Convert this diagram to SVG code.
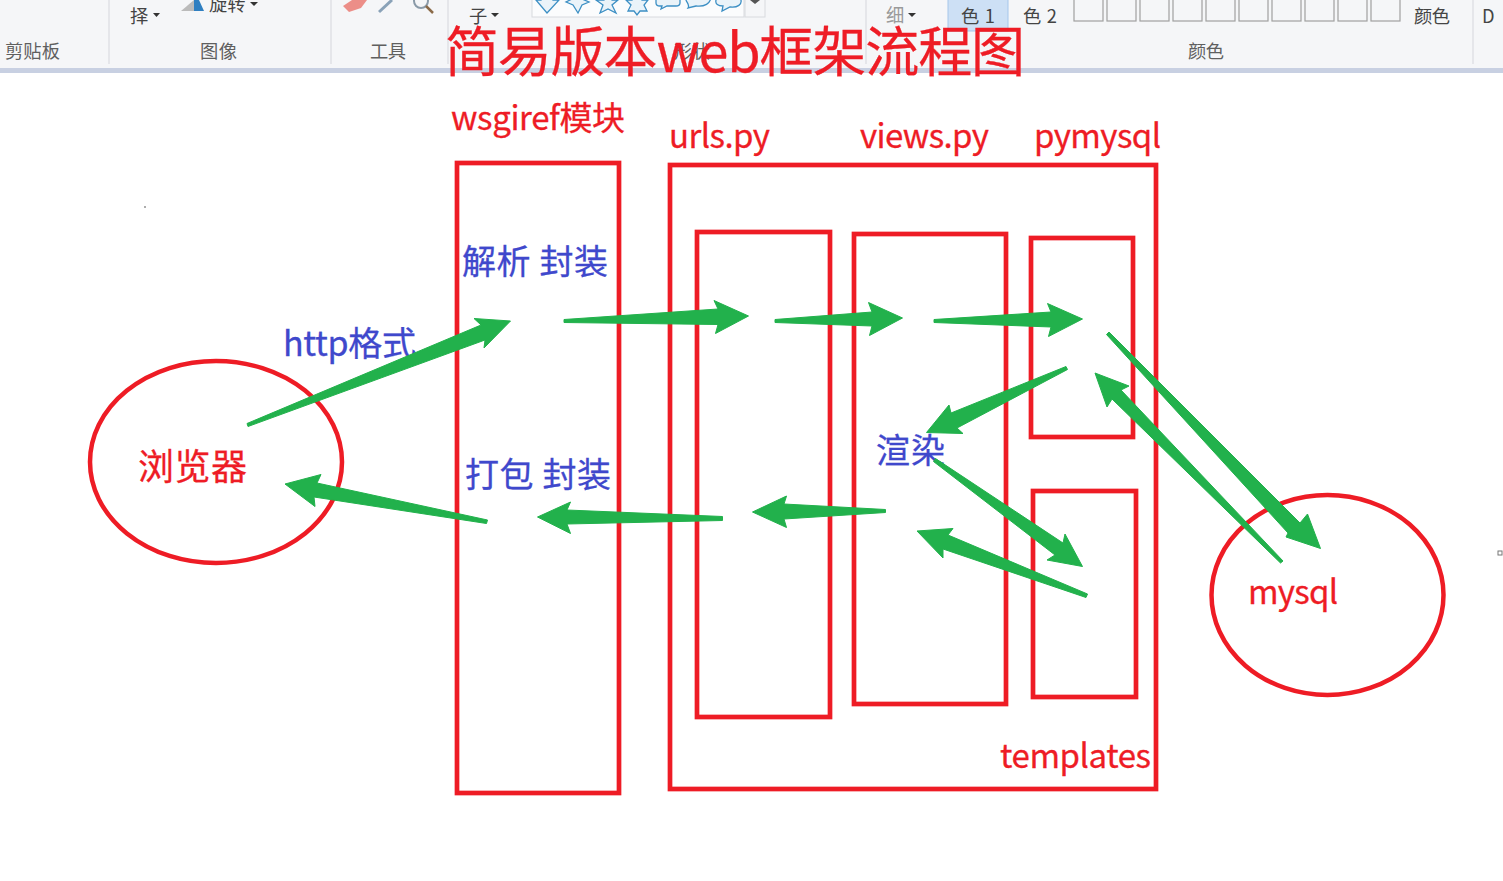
<svg xmlns="http://www.w3.org/2000/svg" width="1503" height="881" viewBox="0 0 1503 881">
<style>
text{font-family:"Noto Sans CJK SC","Liberation Sans",sans-serif}
.rb{font-size:18.300px;fill:#5f5f5f}
.rb2{font-size:18.300px;fill:#444}
.red{fill:#ee1c25;stroke:#ee1c25;stroke-width:0.300}
.blue{fill:#3f48cc;stroke:#3f48cc;stroke-width:0.300}
.box{fill:none;stroke:#ee1c25;stroke-width:4.700}
.oval{fill:none;stroke:#ee1c25;stroke-width:4.500}
.arrow{fill:#22b14c;stroke:#22b14c;stroke-width:1;stroke-linejoin:round}
.sep{stroke:#dfe1e5;stroke-width:1.500}
.sw{fill:#f5f6f8;stroke:#a0a0a0;stroke-width:1.200}
.ic{fill:#eaf3f9;stroke:#3c8fc4;stroke-width:1.300}
</style>
<rect width="1503" height="881" fill="#fff"/>
<g id="ribbon">
<rect width="1503" height="68" fill="#f5f6f8"/>
<rect y="68" width="1503" height="5" fill="#c8d0e2"/>
<path class="sep" d="M109 0V64M331 0V64M448 0V64M866 0V64M1473 0V64" fill="none"/>
<text class="rb" x="5" y="58" textLength="55">剪贴板</text>
<text class="rb" x="200" y="58" textLength="37">图像</text>
<text class="rb" x="370" y="58" textLength="36">工具</text>
<text class="rb" x="674" y="58" textLength="36">形状</text>
<text class="rb" x="1188" y="58" textLength="36">颜色</text>
<text class="rb2" x="130" y="23">择</text>
<path d="M153 13h7l-3.500 4z M250 2h8l-4 4z M491 13h8l-4 4z M908 13h8l-4 4z M751 0h10l-5 4z" fill="#333"/>
<path d="M181 11L194 0V11z" fill="#bbb"/><path d="M194 0H199L204 11H194z" fill="#2f7fc1"/>
<text class="rb2" x="209" y="11">旋转</text>
<path d="M343 6L352 0H367L361 8L349 12z" fill="#ec8e88"/>
<path d="M379 12L392 0" stroke="#8aa2b8" stroke-width="3"/>
<circle cx="421" cy="1" r="7" fill="none" stroke="#8a9aa8" stroke-width="2"/><path d="M426 6L433 13" stroke="#8a6a48" stroke-width="2.500"/>
<text class="rb2" x="469" y="23">子</text>
<rect x="532" y="-2" width="212" height="19" fill="#fbfcfd" stroke="#d8dade"/>
<rect x="745" y="-2" width="20" height="19" fill="#f5f6f8" stroke="#d8dade"/>
<path d="M750 0h10l-5 4z" fill="#555"/>
<path class="ic" d="M536 0L547 13L559 0H553V-4H541V0z M566 2L573 5L578 13L582 5L589 2L582 -1L578 -4z M596 0H604L608 -8L612 0H618L612 5L616 13L608 9L600 13L603 5z M626 0H632L637 -4L642 0H648L644 5L647 11H640L637 15L634 11H628L631 5z M656 -4H680V3C680 5 678 6 676 6H667L661 9L662 6H660C658 6 656 5 656 3z M686 -4H711C711 4 704 7 696 6L688 8C690 5 687 3 686 0z M716 0C718 -4 738 -4 741 0C742 4 738 8 730 7L722 11L723 6C718 6 715 4 716 0z"/>
<text x="886" y="22" style="font-size:18.300px;fill:#9a9a9a">细</text>
<rect x="948" y="-1" width="60" height="32" fill="#cde0f5" stroke="#a5c6ea"/>
<text class="rb2" x="961" y="23" textLength="34">色 1</text>
<text class="rb2" x="1023" y="23" textLength="34">色 2</text>
<g id="swatches"><rect class="sw" x="1074" y="-2" width="29" height="23"/><rect class="sw" x="1107" y="-2" width="29" height="23"/><rect class="sw" x="1140" y="-2" width="29" height="23"/><rect class="sw" x="1173" y="-2" width="29" height="23"/><rect class="sw" x="1206" y="-2" width="29" height="23"/><rect class="sw" x="1239" y="-2" width="29" height="23"/><rect class="sw" x="1272" y="-2" width="29" height="23"/><rect class="sw" x="1305" y="-2" width="29" height="23"/><rect class="sw" x="1338" y="-2" width="29" height="23"/><rect class="sw" x="1371" y="-2" width="29" height="23"/></g>
<text class="rb2" x="1414" y="23" textLength="36">颜色</text>
<text class="rb2" x="1482" y="23">D</text>
<rect x="1498" y="551" width="4" height="4" fill="#fff" stroke="#777"/>
</g>
<text id="title" class="red" x="445" y="72" textLength="580" style="font-size:54px">简易版本web框架流程图</text>
<circle cx="145" cy="207" r="0.800" fill="#444"/>
<g id="node-browser"><ellipse class="oval" cx="216" cy="462" rx="126" ry="101"/><text class="red" x="138" y="480" textLength="109" style="font-size:36px">浏览器</text></g>
<g id="node-wsgiref"><rect class="box" x="457" y="163" width="162" height="630"/><text class="red" x="451" y="130" textLength="174" style="font-size:33px">wsgiref模块</text><text class="blue" x="462" y="274" textLength="146" style="font-size:34px">解析 封装</text><text class="blue" x="465" y="487" textLength="146" style="font-size:34px">打包 封装</text></g>
<g id="node-framework"><rect class="box" x="670" y="165" width="486" height="624"/><text class="red" x="1000" y="768" textLength="151" style="font-size:33px">templates</text></g>
<g id="node-urls"><rect class="box" x="697" y="232" width="133" height="485"/><text class="red" x="669" y="148" textLength="101" style="font-size:33px">urls.py</text></g>
<g id="node-views"><rect class="box" x="854" y="234" width="152" height="470"/><text class="red" x="860" y="148" textLength="129" style="font-size:33px">views.py</text><text class="blue" x="876" y="463" textLength="69" style="font-size:34px">渲染</text></g>
<g id="node-pymysql"><rect class="box" x="1031" y="238" width="102" height="199"/><text class="red" x="1034" y="148" textLength="127" style="font-size:33px">pymysql</text></g>
<g id="node-templates"><rect class="box" x="1033" y="491" width="103" height="206"/></g>
<g id="node-mysql"><ellipse class="oval" cx="1327.500" cy="595" rx="116" ry="100"/><text class="red" x="1248" y="604" textLength="90" style="font-size:33px">mysql</text></g>
<text id="label-http" class="blue" x="283" y="356" textLength="133" style="font-size:34px">http格式</text>
<g id="connectors" class="arrow">
<polygon points="247,423.500 481,325 474,318.500 510.500,321 484,348 485,340 248,426.500"/>
<polygon points="564,319.500 718,309 714,300.500 748.500,316 715.500,333.500 718,324.500 564,322.500"/>
<polygon points="775,319.500 872,312 868.500,302.500 902.500,318 869.500,335.500 872,326 775,322.500"/>
<polygon points="934,319.500 1051,312 1047.500,303.500 1082.500,319 1048.500,336.500 1051,327 934,322.500"/>
<polygon points="1066,366.500 951,413 949,405 926.500,432.500 963,433.500 957,428 1067.500,369.500"/>
<polygon points="1109,332 1300,523 1307.500,514 1320.500,548.500 1286,537 1288,533 1106.500,334.500"/>
<polygon points="1283,561 1121,390 1129,386 1095,373 1107,407 1112,399 1280.500,563"/>
<polygon points="935.500,458.500 1063,543 1065,534 1082.500,566.500 1047,560 1055,555 933.500,461.500"/>
<polygon points="1087.500,594 948,535 953,528.500 917,531 943,558 943,549 1086,597.500"/>
<polygon points="885.500,509.500 784,504 786.500,496 752.500,512 786.500,527.500 784,519 885.500,512.500"/>
<polygon points="722.500,516.500 567,510 570.500,502 537.500,517 570.500,533.500 567,524 722.500,520.500"/>
<polygon points="487.500,520 317,483 321,474.500 285,484 315,506.500 314,497 486.500,523.500"/>
</g>
</svg>
